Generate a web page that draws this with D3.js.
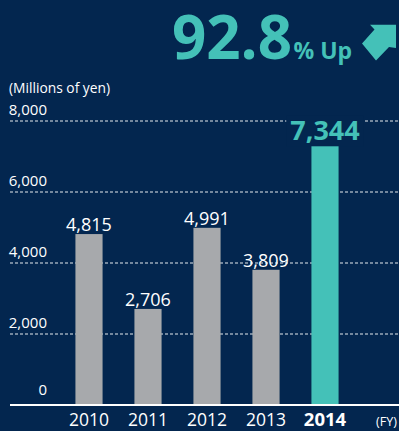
<!DOCTYPE html>
<html>
<head>
<meta charset="utf-8">
<script src="https://cdn.jsdelivr.net/npm/d3@7"></script>
<style>
  html, body { margin: 0; padding: 0; background: #03264f; }
  svg { display: block; font-family: "Open Sans", "Noto Sans", sans-serif; }
</style>
</head>
<body>
<svg id="chart" width="399" height="431"></svg>
<script>
// Fiscal years and amounts (millions of yen)
const years = ["2010", "2011", "2012", "2013", "2014"];
const values = [4815, 2706, 4991, 3809, 7344];
const yTicks = [0, 2000, 4000, 6000, 8000];
const highlightYear = "2014";
const growthText = "92.8";

const W = 399, H = 431;
const navy = "#03264f", teal = "#44c1b8", gray = "#a7a9ac";

const svg = d3.select("#chart");
svg.append("rect").attr("width", W).attr("height", H).attr("fill", navy);

const x = d3.scaleBand().domain(years).range([59.5, 354.5])
  .paddingInner(0.54).paddingOuter(0.27);
const y = d3.scaleLinear().domain([0, 8000]).range([405, 121]);
const fmt = d3.format(",");

// Dashed gridlines with tick labels sitting just above them
const grid = svg.append("g");
yTicks.filter(t => t > 0).forEach(t => {
  grid.append("line")
    .attr("x1", 10).attr("x2", W)
    .attr("y1", y(t)).attr("y2", y(t))
    .attr("stroke", "#ffffff").attr("stroke-width", 1.2)
    .attr("stroke-dasharray", "3,2").attr("opacity", 0.9);
});
yTicks.forEach(t => {
  svg.append("text")
    .attr("x", 47).attr("y", y(t) - (t === 0 ? 10 : 6.5))
    .attr("text-anchor", "end")
    .attr("fill", "#ffffff").attr("font-size", 15)
    .text(fmt(t));
});

svg.append("text").attr("x", 9).attr("y", 93)
  .attr("fill", "#ffffff").attr("font-size", 13.8)
  .text("(Millions of yen)");

// Bars
svg.selectAll("rect.bar").data(years).enter().append("rect")
  .attr("class", "bar")
  .attr("x", d => x(d))
  .attr("width", x.bandwidth())
  .attr("y", (d, i) => y(values[i]))
  .attr("height", (d, i) => y(0) - y(values[i]))
  .attr("fill", d => d === highlightYear ? teal : gray);

// Value labels
years.forEach((d, i) => {
  const cx = x(d) + x.bandwidth() / 2;
  if (d === highlightYear) {
    const t = svg.append("text")
      .attr("x", cx).attr("y", y(values[i]) - 4)
      .attr("text-anchor", "middle")
      .attr("fill", teal).attr("font-size", 27).attr("font-weight", 700)
      .text(fmt(values[i]));
    const bb = t.node().getBBox();
    svg.insert("rect", () => t.node())
      .attr("x", bb.x - 4).attr("y", bb.y + 4)
      .attr("width", bb.width + 8).attr("height", bb.height - 6)
      .attr("fill", navy);
  } else {
    svg.append("text")
      .attr("x", cx).attr("y", y(values[i]) - 3)
      .attr("text-anchor", "middle")
      .attr("fill", "#ffffff").attr("font-size", 18)
      .text(fmt(values[i]));
  }
});

// Baseline
svg.append("line").attr("x1", 10).attr("x2", W)
  .attr("y1", y(0)).attr("y2", y(0))
  .attr("stroke", "#ffffff").attr("stroke-width", 2);

// Year labels
const xAxis = d3.axisBottom(x).tickSize(0).tickPadding(0);
const xg = svg.append("g").attr("transform", `translate(0,${y(0)})`).call(xAxis);
xg.select(".domain").remove();
xg.selectAll("text")
  .attr("y", 21).attr("dy", 0)
  .attr("fill", "#ffffff")
  .attr("font-size", d => d === highlightYear ? 18.5 : 17.5)
  .attr("font-weight", d => d === highlightYear ? 700 : 400)
  .attr("font-family", "'Open Sans', 'Noto Sans', sans-serif");

svg.append("text").attr("x", 376).attr("y", 426)
  .attr("fill", "#ffffff").attr("font-size", 12.5)
  .text("(FY)");

// Headline growth figure with arrow
const head = svg.append("text").attr("x", 172).attr("y", 59)
  .attr("fill", teal).attr("font-weight", 700);
head.append("tspan").attr("font-size", 60).text(growthText);
head.append("tspan").attr("font-size", 23).attr("dx", 1.5).text("% Up");

svg.append("path")
  .attr("d", "M370,24.7 L396,24.7 L396,48 L389,47 L376,60.5 L362,43.5 L374.5,29.5 Z")
  .attr("fill", teal);
</script>
</body>
</html>
